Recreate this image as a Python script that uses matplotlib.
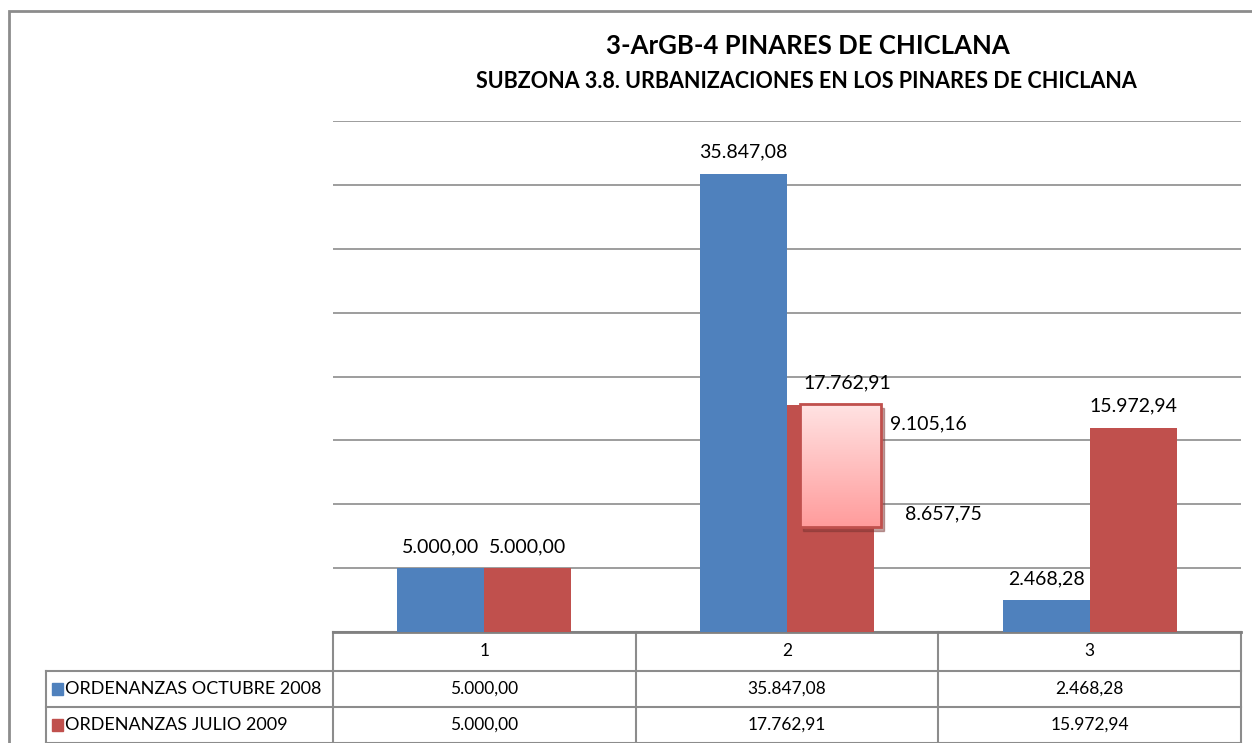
import numpy as np
import matplotlib.pyplot as plt
from matplotlib.patches import Rectangle
from matplotlib.colors import LinearSegmentedColormap
from matplotlib.transforms import blended_transform_factory

categories = ['1', '2', '3']
series_names = ['ORDENANZAS OCTUBRE 2008', 'ORDENANZAS JULIO 2009']
oct_2008 = [5000.00, 35847.08, 2468.28]
jul_2009 = [5000.00, 17762.91, 15972.94]
# desglose de la barra de julio 2009 en la categoria 2
split_parts = [9105.16, 8657.75]

colors = ['#4f81bd', '#c0504d']
grid_col = '#8c8c8c'


def es_fmt(v):
    s = f'{v:,.2f}'
    return s.replace(',', 'X').replace('.', ',').replace('X', '.')


plt.rcParams['font.family'] = ['Lato', 'DejaVu Sans']

W, H = 1252, 743
fig = plt.figure(figsize=(W / 100, H / 100), dpi=100)
ax = fig.add_axes([333 / W, 1 - 632 / H, 908 / W, 511 / H])

x = np.arange(len(categories))
bw = 0.287
ax.bar(x - bw / 2, oct_2008, bw, color=colors[0], zorder=3)
ax.bar(x + bw / 2, jul_2009, bw, color=colors[1], zorder=3)

ax.set_yticks(np.arange(0, 40001, 5000))
ax.yaxis.grid(True, color=grid_col, lw=1.2, zorder=0)
ax.set_xticks([])
ax.tick_params(left=False, labelleft=False)
for s in ['top', 'right', 'left']:
    ax.spines[s].set_visible(False)
ax.spines['bottom'].set_color('#808080')
ax.spines['bottom'].set_linewidth(2)

# etiquetas de datos
fs_lab = 14
off = 1700
for i, v in enumerate(oct_2008):
    ax.text(i - bw / 2, v + off, es_fmt(v), ha='center', va='center', fontsize=fs_lab, zorder=5)
for i, v in enumerate(jul_2009):
    dx = 0.055 if i == 1 else 0
    ax.text(i + bw / 2 + dx, v + off, es_fmt(v), ha='center', va='center', fontsize=fs_lab, zorder=5)

# recuadro de desglose sobre la barra 2
bx0, bx1 = 1.043, 1.310
by0, by1 = 8200, 17850
ax.add_patch(Rectangle((bx0 + 0.01, by0 - 300), bx1 - bx0, by1 - by0,
                       color='#7a3331', alpha=0.45, zorder=4))
grad = np.linspace(0, 1, 100).reshape(-1, 1)
cmap = LinearSegmentedColormap.from_list('pk', ['#ffe3e3', '#ff9c9c'])
ax.imshow(grad, cmap=cmap, aspect='auto', origin='upper',
          extent=(bx0, bx1, by0, by1), zorder=5)
ax.add_patch(Rectangle((bx0, by0), bx1 - bx0, by1 - by0, fill=False,
                       edgecolor='#c0504d', lw=2, zorder=6))
ax.set_xlim(-0.5, 2.5)
ax.set_ylim(0, 40000)
ax.text(1.339, 16270, es_fmt(split_parts[0]), ha='left', va='center', fontsize=fs_lab, zorder=6)
ax.text(1.389, 9230, es_fmt(split_parts[1]), ha='left', va='center', fontsize=fs_lab, zorder=6)

# tabla de datos
tr = blended_transform_factory(ax.transData, ax.transAxes)
rows_y = [0, -39 / 511, -75 / 511, -111 / 511]
col_x = [-0.5, 0.5, 1.5, 2.5]
leg_x = -1.448
lkw = dict(color=grid_col, lw=1.5, transform=tr, clip_on=False, zorder=2)
for y in rows_y[1:]:
    ax.plot([leg_x, 2.5], [y, y], **lkw)
ax.plot([-0.5, 2.5], [rows_y[0], rows_y[0]], **lkw)
for cx in col_x:
    ax.plot([cx, cx], [rows_y[0], rows_y[3]], **lkw)
ax.plot([leg_x, leg_x], [rows_y[1], rows_y[3]], **lkw)

for i, c in enumerate(categories):
    ax.text(i, (rows_y[0] + rows_y[1]) / 2, c, ha='center', va='center',
            fontsize=12.5, transform=tr)
for r, (name, vals) in enumerate(zip(series_names, [oct_2008, jul_2009])):
    yc = (rows_y[r + 1] + rows_y[r + 2]) / 2
    for i, v in enumerate(vals):
        ax.text(i, yc, es_fmt(v), ha='center', va='center', fontsize=12.5, transform=tr)
    ax.add_patch(Rectangle((-1.43, yc - 0.012), 0.037, 0.024, color=colors[r],
                           transform=tr, clip_on=False))
    ax.text(-1.387, yc, name, ha='left', va='center', fontsize=13, transform=tr)

# titulos
fig.text(808 / W, 1 - 46 / H, '3-ArGB-4 PINARES DE CHICLANA', ha='center', va='center',
         fontsize=18.5, fontweight='bold')
fig.text(806 / W, 1 - 82 / H, 'SUBZONA 3.8. URBANIZACIONES EN LOS PINARES DE CHICLANA',
         ha='center', va='center', fontsize=15.5, fontweight='bold')

# marco exterior
fig.patches.append(Rectangle((9 / W, -0.05), 1.1, 1 - 11 / H + 0.05, fill=False,
                             edgecolor='#8c8c8c', lw=2, transform=fig.transFigure))

fig.savefig('out.png', dpi=100)
